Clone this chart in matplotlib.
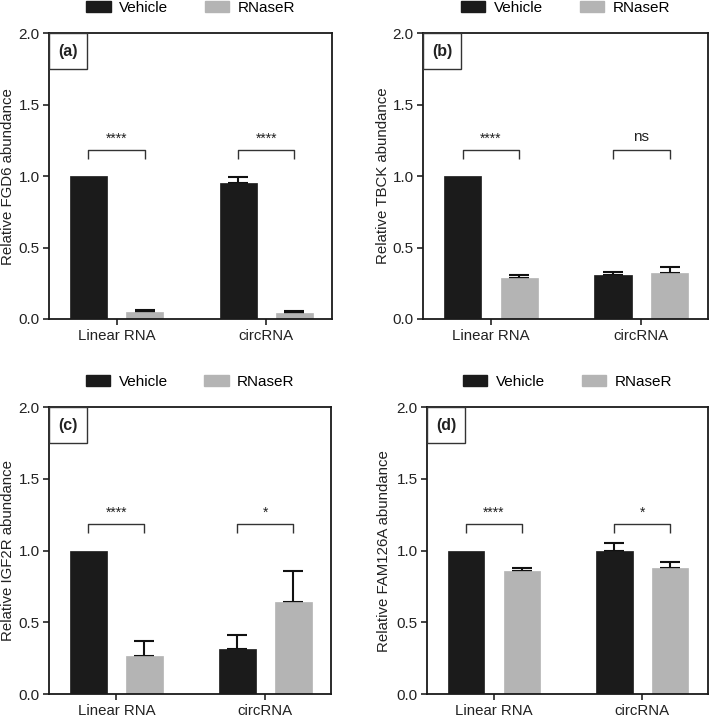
import matplotlib
matplotlib.use("Agg")
import matplotlib.pyplot as plt
from matplotlib.patches import Rectangle, Patch
import numpy as np

plt.rcParams['font.family'] = ['Liberation Sans', 'DejaVu Sans']

categories = ["Linear RNA", "circRNA"]
series = ["Vehicle", "RNaseR"]
panel_labels = ["(a)", "(b)", "(c)", "(d)"]
ylabels = ["Relative FGD6 abundance", "Relative TBCK abundance",
           "Relative IGF2R abundance", "Relative FAM126A abundance"]

# values [panel][series][category]
vehicle_vals = [[1.00, 0.955], [1.00, 0.31], [1.00, 0.315], [1.00, 0.995]]
vehicle_err = [[0.0, 0.04], [0.0, 0.02], [0.0, 0.095], [0.0, 0.058]]
rnase_vals = [[0.048, 0.044], [0.29, 0.325], [0.267, 0.64], [0.858, 0.877]]
rnase_err = [[0.015, 0.012], [0.015, 0.038], [0.103, 0.216], [0.02, 0.042]]
significance = [["****", "****"], ["****", "ns"], ["****", "*"], ["****", "*"]]
yticks = [0.0, 0.5, 1.0, 1.5, 2.0]

colors = {"Vehicle": "#1b1b1b", "RNaseR": "#b4b4b4"}

W, H = 709, 718
fig = plt.figure(figsize=(W / 100, H / 100), dpi=100)

# axes boxes in pixels: left, top, right, bottom
boxes = [(49.3, 33.3, 332, 319), (423.3, 33.3, 707.5, 319),
         (49.3, 407.3, 331, 694), (427.3, 407.3, 707.5, 694)]
label_right_px = [15.5, 390, 15.5, 390.5]

bw = 0.247
off = 0.188
x = np.arange(len(categories))

for i, (l, t, r, b) in enumerate(boxes):
    ax = fig.add_axes([l / W, (H - b) / H, (r - l) / W, (b - t) / H])
    ax.bar(x - off, vehicle_vals[i], bw, color=colors["Vehicle"],
           edgecolor=colors["Vehicle"], linewidth=0.5, zorder=2)
    ax.bar(x + off, rnase_vals[i], bw, color=colors["RNaseR"],
           edgecolor=colors["RNaseR"], linewidth=0.5, zorder=2)
    for xs, vals, errs in [(x - off, vehicle_vals[i], vehicle_err[i]),
                           (x + off, rnase_vals[i], rnase_err[i])]:
        for xx, v, e in zip(xs, vals, errs):
            if e > 0:
                ax.errorbar([xx], [v], yerr=[[0], [e]], fmt='none',
                            ecolor='#111111', elinewidth=1.5, capsize=7.4,
                            capthick=1.5, zorder=1)
    # significance brackets
    for j, s in enumerate(significance[i]):
        x0, x1 = x[j] - off, x[j] + off
        ax.plot([x0, x0, x1, x1], [1.12, 1.184, 1.184, 1.12], color='#333333',
                lw=1.0, solid_capstyle='butt', zorder=3)
        if s == "ns":
            ax.text(x[j], 1.245, s, ha='center', va='baseline', fontsize=11,
                    color='#222222')
        else:
            ax.text(x[j], 1.235, s, ha='center', va='baseline', fontsize=10,
                    color='#222222')
    ax.set_xlim(-0.45, 1.44)
    ax.set_ylim(0, 2.0)
    ax.set_yticks(yticks)
    ax.set_yticklabels([f"{v:.1f}" for v in yticks])
    ax.set_xticks(x)
    ax.set_xticklabels(categories)
    ax.tick_params(direction='out', length=4, width=1.1, labelsize=11,
                   colors='#111111', labelcolor='#222222', pad=3)
    ax.tick_params(axis='x', labelsize=10.8)
    for sp in ax.spines.values():
        sp.set_linewidth(1.3)
        sp.set_color('#1a1a1a')
    ax.set_ylabel(ylabels[i], fontsize=10.8, color='#222222')
    ax.yaxis.set_label_coords((label_right_px[i] - l) / (r - l), 0.5)
    # panel label box
    bwx = 37.4 / (r - l)
    bhy = 36 / (b - t)
    ax.add_patch(Rectangle((0, 1 - bhy), bwx, bhy, transform=ax.transAxes,
                           facecolor='white', edgecolor='#333333', lw=1.0,
                           zorder=4, clip_on=False))
    ax.text(bwx / 2, 1 - bhy / 2, panel_labels[i], transform=ax.transAxes,
            ha='center', va='center', fontsize=11.5, fontweight='bold',
            color='#222222', zorder=5)
    handles = [Patch(facecolor=colors[s], edgecolor=colors[s], label=s)
               for s in series]
    ax.legend(handles=handles, loc='center', bbox_to_anchor=(0.5, 1.088),
              ncol=2, frameon=False, fontsize=11, handlelength=1.6,
              handleheight=0.7, handletextpad=0.55, columnspacing=2.4,
              borderaxespad=0, borderpad=0)

fig.savefig("out.png", dpi=100, facecolor='white')
